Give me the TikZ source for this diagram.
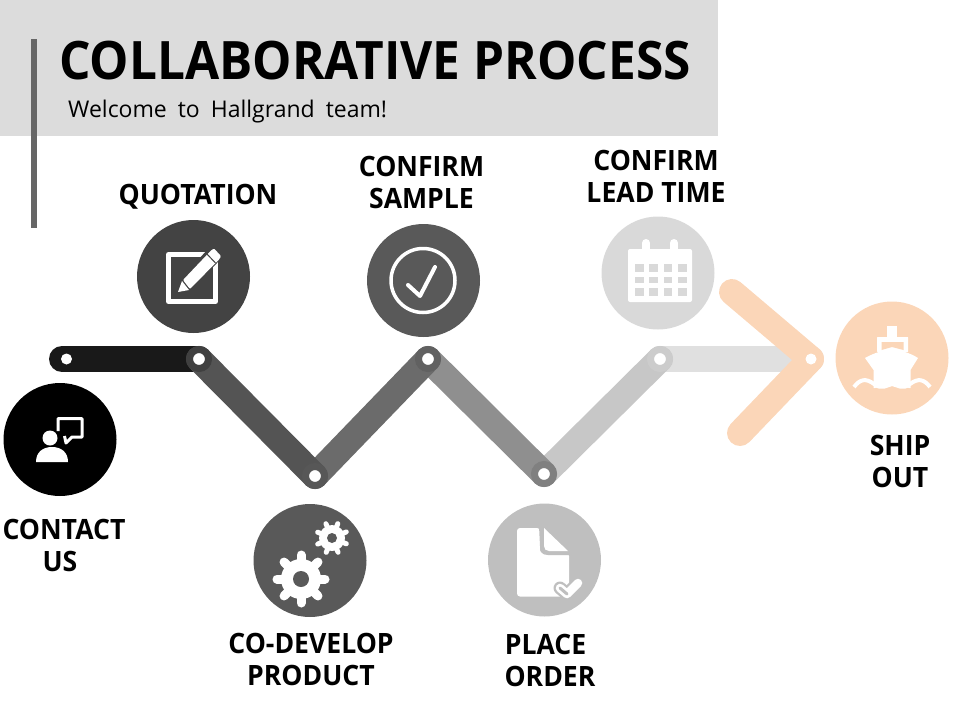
\documentclass[tikz,border=0pt]{standalone}
\usepackage{graphicx}
\usepackage{fontspec}
\setmainfont{Open Sans}
\usetikzlibrary{backgrounds}
\definecolor{cHead}{HTML}{DCDCDC}
\definecolor{cBar}{HTML}{666666}
\definecolor{cQuo}{HTML}{434343}
\definecolor{cMid}{HTML}{595959}
\definecolor{cPlace}{HTML}{BFBFBF}
\definecolor{cCal}{HTML}{D9D9D9}
\definecolor{cShip}{HTML}{FBD6B8}
\newcommand{\lbl}[1]{\scalebox{.95}[1]{#1}}
\tikzset{
  iconcircle/.style={circle,minimum size=113pt,inner sep=0pt,outer sep=0pt,fill=#1},
  joint/.style={circle,minimum size=11pt,inner sep=0pt,outer sep=0pt,fill=white},
  ringjoint/.style={circle,minimum size=19pt,inner sep=0pt,outer sep=0pt,fill=white,draw=#1,line width=7pt},
  band/.style={line width=26pt,line cap=round,line join=round,draw=#1},
  steplabel/.style={font=\bfseries\fontsize{28}{32}\selectfont,align=center,inner sep=0pt,text=black},
}
\begin{document}
\begin{tikzpicture}[x=1pt,y=-1pt]
\useasboundingbox (0,0) rectangle (960,720);
% header
\begin{pgfonlayer}{background}
\fill[cHead] (0,0) rectangle (718,136);
\fill[cBar] (31,39) rectangle (37,228);
\end{pgfonlayer}
\node[font=\bfseries\fontsize{53}{53}\selectfont,inner sep=0pt,anchor=base west] (title) at (59,79.5) {\scalebox{.935}[1]{COLLABORATIVE PROCESS}};
\node[font=\fontsize{23}{26}\selectfont,inner sep=0pt,anchor=base west] (subtitle) at (68,117) {Welcome\hspace{5pt} to\hspace{5pt} Hallgrand\hspace{5pt} team!};
% joints
\node[joint] (j1) at (66.5,359) {};
\node[ringjoint=black!75] (j2) at (199,359) {};
\node[ringjoint=black!66] (j3) at (315,476) {};
\node[ringjoint=black!62] (j4) at (428,359) {};
\node[ringjoint=black!50] (j5) at (544,474) {};
\node[ringjoint=black!20] (j6) at (660,359) {};
\node[joint] (j7) at (811,359) {};
\coordinate (a0) at (62,359);
\coordinate (a1) at (732,292);
\coordinate (a2) at (740,433);
% connectors
\begin{pgfonlayer}{background}
\draw[band=black!12] (j6.center) -- (j7.center);
\draw[band=cShip] (a1) -- (j7.center) -- (a2);
\draw[band=black!22] (j5.center) -- (j6.center);
\draw[band=black!44] (j4.center) -- (j5.center);
\draw[band=black!58] (j3.center) -- (j4.center);
\draw[band=black!90] (a0) -- (j2.center);
\draw[band=black!67] (j2.center) -- (j3.center);
\end{pgfonlayer}
% icon circles
\node[iconcircle=black] (contact) at (60,439.5) {};
\node[iconcircle=cQuo] (quote) at (193.5,276.5) {};
\node[iconcircle=cMid] (sample) at (423.5,280.5) {};
\node[iconcircle=cMid] (develop) at (310,560.5) {};
\node[iconcircle=cPlace] (place) at (544.5,560) {};
\node[iconcircle=cCal] (lead) at (658,273) {};
\node[iconcircle=cShip] (ship) at (892,358) {};
% labels
\node[steplabel] (lcontact) at (64,545) {\lbl{CONTACT}\\\hspace*{-8pt}\lbl{US}};
\node[steplabel] (lquote) at (198,197) {\lbl{QUOTATION}};
\node[steplabel] (lsample) at (421.5,182.5) {\lbl{CONFIRM}\\\lbl{SAMPLE}};
\node[steplabel] (llead) at (656,176) {\lbl{CONFIRM}\\\lbl{LEAD TIME}};
\node[steplabel] (ldev) at (311,659.5) {\lbl{CO-DEVELOP}\\\lbl{PRODUCT}};
\node[steplabel] (lplace) at (550,660) {\hspace*{-9pt}\lbl{PLACE}\\\lbl{ORDER}};
\node[steplabel] (lship) at (900,461) {\lbl{SHIP}\\\lbl{OUT}};
% contact icon
\fill[white] (50,438) circle (7.5);
\fill[white] (36,462) .. controls (36,452) and (43,447) .. (52,447) .. controls (61,447) and (68,452) .. (68,462) -- cycle;
\draw[white,line width=3pt,line join=round] (58,431) -- (58,418.5) -- (82,418.5) -- (82,437) -- (72,437) -- (66,443) -- (64.5,436);
% quotation icon
\draw[white,line width=5pt,line join=round] (168.5,254.5) rectangle (215.5,301.5);
\draw[cQuo,line width=16pt] (186,284) -- (224,244);
\fill[white] (178,292) -- (182,281) -- (189,290) -- cycle;
\fill[white,rounded corners=1pt] (183,280) -- (211,250.5) -- (214,248.5) -- (221,256) -- (219.5,259) -- (190,289) -- cycle;
\draw[cQuo,line width=1pt] (206,253) -- (215.5,263);
% check icon
\draw[white,line width=3.5pt] (sample.center) ++(-0.5,0) circle (32);
\draw[white,line width=4pt,line cap=round,line join=round] (408,285) -- (420,296) -- (435,267);
% gears
\begin{scope}[shift={(301,579)}]
\fill[white] (0,0) circle (20);
\foreach \a in {0,45,...,315} \draw[white,line width=9pt,line cap=round] (0,0) -- (\a:24);
\fill[cMid] (0,0) circle (8);
\end{scope}
\begin{scope}[shift={(332,538)}]
\fill[white] (0,0) circle (13);
\foreach \a in {22,67,...,337} \draw[white,line width=5pt,line cap=round] (0,0) -- (\a:15.5);
\fill[cMid] (0,0) circle (5);
\end{scope}
% document icon
\fill[white,rounded corners=3pt] (517,528) -- (540,528) -- (540,553) -- (569,553) -- (569,596.5) -- (517,596.5) -- cycle;
\fill[cPlace] (539,526) -- (544,526) -- (544,546) .. controls (544,549) and (546,551) .. (549,551) -- (570,551) -- (570,555) -- (548,555) .. controls (542,555) and (540,552) .. (540,546) -- cycle;
\fill[white] (544,528) -- (568,551) -- (549,551) .. controls (546,551) and (544,549) .. (544,546) -- cycle;
\draw[cPlace,line width=13pt,line cap=round,line join=round] (560,588) -- (567,594) -- (578,583);
\draw[white,line width=8.5pt,line cap=round,line join=round] (560,588) -- (567,594) -- (578,583);
\draw[cPlace,line width=3pt,line cap=round,line join=round] (560,588) -- (567,594);
% calendar icon
\fill[white,rounded corners=2pt] (628,249) rectangle (692,302);
\draw[white,line width=8pt,line cap=round] (646,243) -- (646,252);
\draw[white,line width=8pt,line cap=round] (674,243) -- (674,252);
\foreach \cx in {635,649,663.5,678}{
  \fill[cCal] (\cx,263.5) rectangle +(8.5,8);
  \fill[cCal] (\cx,277) rectangle +(8.5,6);
  \fill[cCal] (\cx,287.5) rectangle +(8.5,8);
}
% ship icon
\fill[white] (887,326) rectangle (897,338);
\fill[white,rounded corners=0.5pt] (877,352) -- (877,337) -- (908,337) -- (908,352) -- cycle;
\fill[cShip] (881.5,350) -- (881.5,342) -- (903.5,342) -- (903.5,350) -- (892,347) -- cycle;
\fill[white] (865,358) .. controls (874,353) and (883,350) .. (892,350) .. controls (901,350) and (910,353) .. (918,358) -- (910.5,370) -- (910.5,388) -- (873.5,388) -- (873.5,370) -- cycle;
\draw[cShip,line width=6pt] (852,394) .. controls (858,386) and (866,386) .. (874,392.5) .. controls (882,386) and (902,386) .. (910,392.5) .. controls (918,386) and (926,386) .. (932,394);
\draw[white,line width=4pt] (854,387) .. controls (860,379) and (866,378) .. (874,384) .. controls (882,390) and (887,385) .. (892,384) .. controls (898,385) and (902,390) .. (910,384) .. controls (918,378) and (924,379) .. (930,387);
\end{tikzpicture}
\end{document}
